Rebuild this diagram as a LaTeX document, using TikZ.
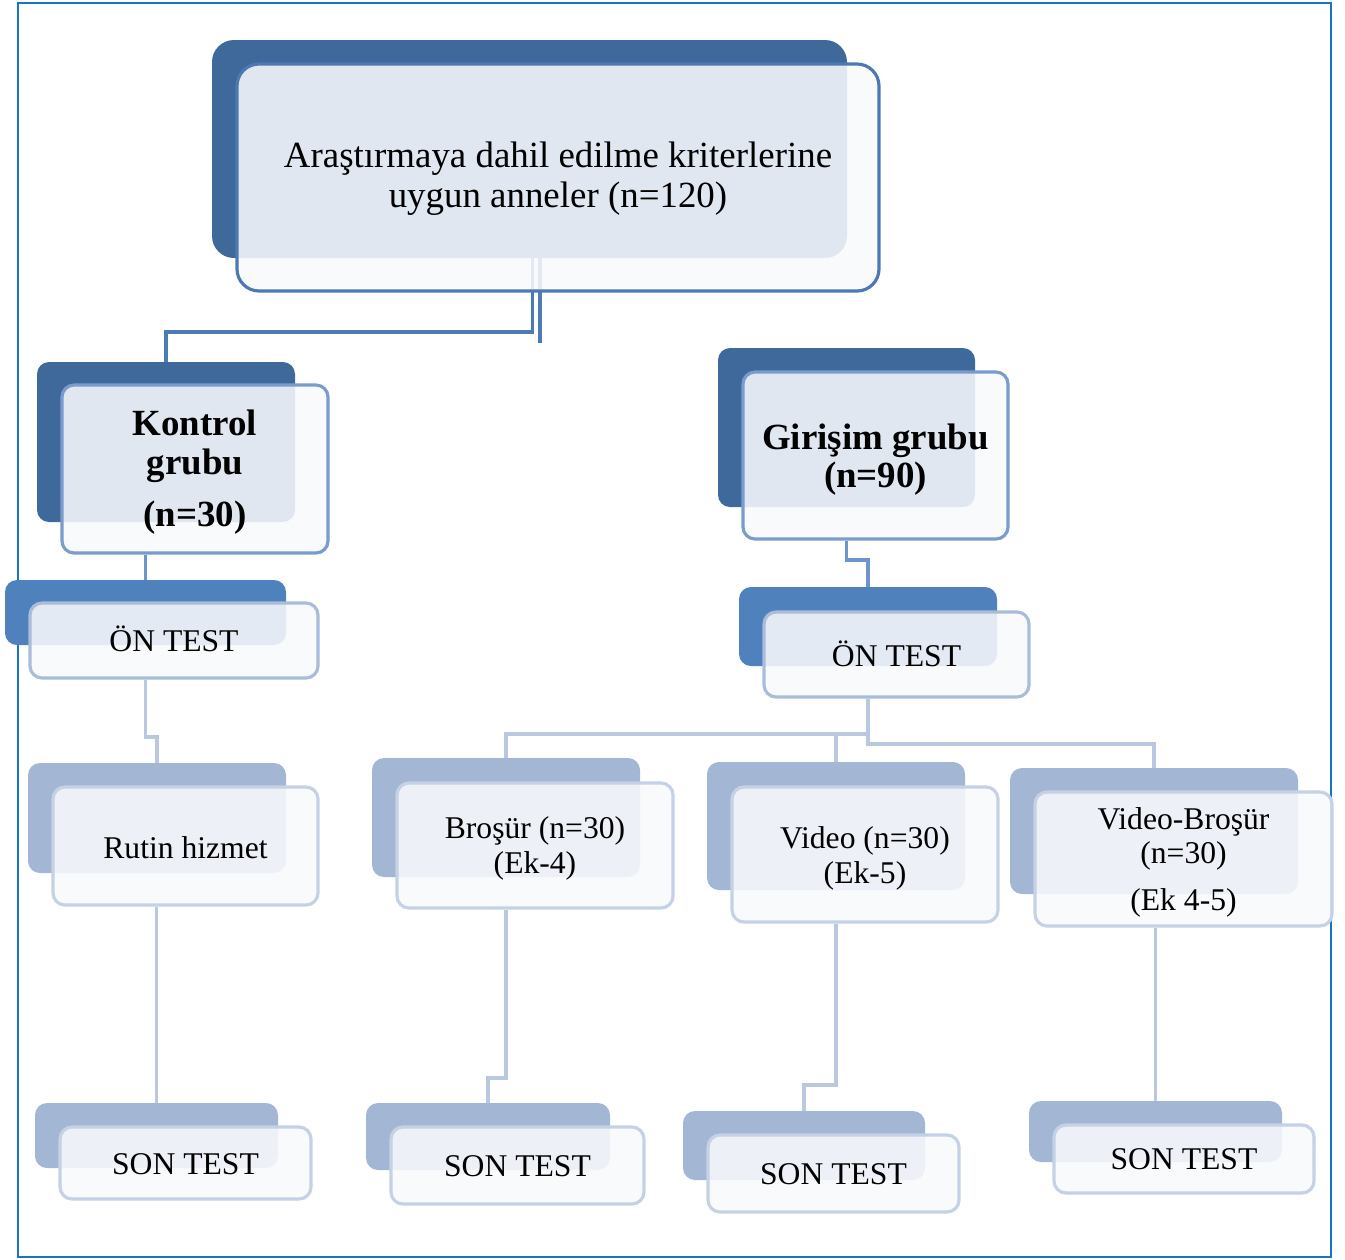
\documentclass[tikz,border=0pt]{standalone}
\usepackage{fontspec}
\setmainfont{Liberation Serif}
\usetikzlibrary{fit,backgrounds,calc}
\definecolor{frameC}{RGB}{26,115,196}
\definecolor{backDark}{RGB}{63,104,155}
\definecolor{backMid}{RGB}{79,129,189}
\definecolor{backLight}{RGB}{163,183,213}
\definecolor{brdTop}{RGB}{77,121,179}
\definecolor{brdGrp}{RGB}{122,155,205}
\definecolor{brdOn}{RGB}{169,188,218}
\definecolor{brdLow}{RGB}{197,209,228}
\definecolor{frontFill}{RGB}{248,249,252}
\definecolor{connTop}{RGB}{79,123,181}
\definecolor{connGrp}{RGB}{111,148,202}
\definecolor{connLow}{RGB}{185,200,222}
\tikzset{
  backbox/.style={rectangle, rounded corners=0.24cm, inner sep=0pt, draw=none},
  frontbox/.style={rectangle, rounded corners=0.24cm, inner sep=0pt, line width=1.8pt,
     fill=frontFill, fill opacity=0.88},
  conn/.style={line width=2.2pt},
  txt/.style={align=center, inner sep=0pt},
  lbl/.style={txt, font=\fontsize{18}{19.5}\selectfont},
  blbl/.style={txt, font=\fontsize{21}{22}\selectfont\bfseries},
}
\begin{document}
\begin{tikzpicture}[x=0.02cm,y=-0.02cm]
\useasboundingbox (0,0) rectangle (1345,1259);
\draw[frameC, line width=1.4pt] (18,3) rectangle (1331,1257);

% top
\node[backbox, rounded corners=0.44cm, fill=backDark, fit={(212,40) (847,258)}] (topB) {};
\node[frontbox, rounded corners=0.44cm, draw=brdTop, fit={(237,64) (879,291)}] (topF) {};
\node[txt, font=\fontsize{21}{22.7}\selectfont] (topT) at ([yshift=-0.02cm]topF.center)
   {Araştırmaya dahil edilme kriterlerine\\uygun anneler (n=120)};

% Kontrol
\node[backbox, fill=backDark, fit={(37,362) (295,522)}] (konB) {};
\node[frontbox, draw=brdGrp, fit={(62,385) (328,553)}] (konF) {};
\node[blbl] (konT) at ([yshift=-0.06cm]konF.center) {Kontrol\\grubu\\[0.27cm](n=30)};

\node[backbox, fill=backMid, fit={(5,580) (286,645)}] (onkB) {};
\node[frontbox, draw=brdOn, fit={(30,603) (318,678)}] (onkF) {};
\node[lbl] (onkT) at ([yshift=0.04cm]onkF.center) {ÖN TEST};

\node[backbox, fill=backLight, fit={(28,763) (286,873)}] (rutB) {};
\node[frontbox, draw=brdLow, fit={(53,787) (318,905)}] (rutF) {};
\node[lbl] (rutT) at ([yshift=-0.04cm]rutF.center) {Rutin hizmet};

\node[backbox, fill=backLight, fit={(35,1103) (278,1168)}] (son1B) {};
\node[frontbox, draw=brdLow, fit={(60,1127) (311,1199)}] (son1F) {};
\node[lbl] (son1T) at ([yshift=-0.02cm]son1F.center) {SON TEST};

% Girisim
\node[backbox, fill=backDark, fit={(718,348) (975,507)}] (girB) {};
\node[frontbox, draw=brdGrp, fit={(743,372) (1008,539)}] (girF) {};
\node[blbl] (girT) at ([yshift=-0.08cm]girF.center) {Girişim grubu\\(n=90)};

\node[backbox, fill=backMid, fit={(739,587) (997,666)}] (ongB) {};
\node[frontbox, draw=brdOn, fit={(764,612) (1029,697)}] (ongF) {};
\node[lbl] (ongT) at ([yshift=0.02cm]ongF.center) {ÖN TEST};

\node[backbox, fill=backLight, fit={(372,758) (640,877)}] (broB) {};
\node[frontbox, draw=brdLow, fit={(397,783) (673,908)}] (broF) {};
\node[lbl] (broT) at ([yshift=-0.06cm]broF.center) {Broşür (n=30)\\(Ek-4)};

\node[backbox, fill=backLight, fit={(707,762) (965,890)}] (vidB) {};
\node[frontbox, draw=brdLow, fit={(732,787) (998,922)}] (vidF) {};
\node[lbl] (vidT) at ([yshift=-0.08cm]vidF.center) {Video (n=30)\\(Ek-5)};

\node[backbox, fill=backLight, fit={(1010,768) (1298,894)}] (vbB) {};
\node[frontbox, draw=brdLow, fit={(1035,792) (1332,926)}] (vbF) {};
\node[lbl] (vbT) at ([yshift=-0.07cm]vbF.center) {Video-Broşür\\(n=30)\\[0.26cm](Ek 4-5)};

\node[backbox, fill=backLight, fit={(366,1103) (610,1170)}] (son2B) {};
\node[frontbox, draw=brdLow, fit={(391,1127) (644,1204)}] (son2F) {};
\node[lbl] (son2T) at ([yshift=-0.02cm]son2F.center) {SON TEST};

\node[backbox, fill=backLight, fit={(683,1111) (925,1180)}] (son3B) {};
\node[frontbox, draw=brdLow, fit={(708,1135) (959,1212)}] (son3F) {};
\node[lbl] (son3T) at ([yshift=-0.02cm]son3F.center) {SON TEST};

\node[backbox, fill=backLight, fit={(1029,1101) (1282,1162)}] (son4B) {};
\node[frontbox, draw=brdLow, fit={(1054,1125) (1314,1193)}] (son4F) {};
\node[lbl] (son4T) at (son4F.center) {SON TEST};

\coordinate (stub) at (540,343);

\begin{scope}[on background layer]
  \draw[conn, connTop] ([xshift=0.06cm]topB.south) -- ++(0,74) -| (konB.north);
  \draw[conn, connTop] (stub |- topB.south) -- (stub);
  \draw[conn, connGrp] (konF.south -| onkB.north) -- (onkB.north);
  \draw[conn, connLow] (onkF.south -| onkB.north) -- ++(0,57) -| (rutB.north);
  \draw[conn, connLow] (rutF.south -| son1B.north) -- (son1B.north);
  \draw[conn, connGrp] (girF.south -| girB.north) -- ++(0,19) -| (ongB.north);
  \draw[conn, connLow] (ongF.south -| ongB.north) -- ++(0,35) -| (broB.north);
  \draw[conn, connLow] (ongF.south -| ongB.north) -- ++(0,35) -| (vidB.north);
  \draw[conn, connLow] (ongF.south -| ongB.north) -- ++(0,45) -| (vbB.north);
  \draw[conn, connLow] (broF.south -| broB.north) -- ++(0,168) -| (son2B.north);
  \draw[conn, connLow] (vidF.south -| vidB.north) -- ++(0,161) -| (son3B.north);
  \draw[conn, connLow] (vbF.south -| son4B.north) -- (son4B.north);
\end{scope}
\end{tikzpicture}
\end{document}
